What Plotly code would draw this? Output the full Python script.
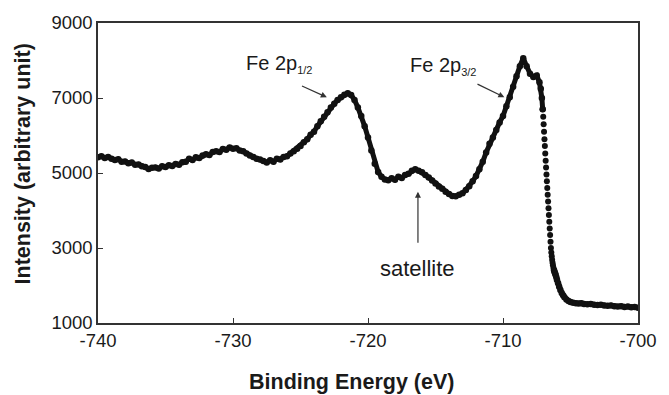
import plotly.graph_objects as go

# Binding energy (eV) and intensity (arbitrary unit)
energy = [
    -740.00, -739.75, -739.50, -739.25, -739.00, -738.75, -738.50, -738.25, -738.00, -737.75,
    -737.50, -737.25, -737.00, -736.75, -736.50, -736.25, -736.00, -735.75, -735.50, -735.25,
    -735.00, -734.75, -734.50, -734.25, -734.00, -733.75, -733.50, -733.25, -733.00, -732.75,
    -732.50, -732.25, -732.00, -731.75, -731.50, -731.25, -731.00, -730.75, -730.50, -730.25,
    -730.00, -729.75, -729.50, -729.25, -729.00, -728.75, -728.50, -728.25, -728.00, -727.75,
    -727.50, -727.25, -727.00, -726.75, -726.50, -726.25, -726.00, -725.75, -725.50, -725.25,
    -725.00, -724.75, -724.50, -724.25, -724.00, -723.75, -723.50, -723.25, -723.00, -722.75,
    -722.50, -722.25, -722.00, -721.75, -721.50, -721.25, -721.00, -720.75, -720.50, -720.25,
    -720.00, -719.75, -719.50, -719.25, -719.00, -718.75, -718.50, -718.25, -718.00, -717.75,
    -717.50, -717.25, -717.00, -716.75, -716.50, -716.25, -716.00, -715.75, -715.50, -715.25,
    -715.00, -714.75, -714.50, -714.25, -714.00, -713.75, -713.50, -713.25, -713.00, -712.75,
    -712.50, -712.25, -712.00, -711.75, -711.50, -711.25, -711.00, -710.75, -710.50, -710.25,
    -710.00, -709.75, -709.50, -709.25, -709.00, -708.75, -708.50, -708.25, -708.00, -707.75,
    -707.50, -707.30, -707.20, -707.12, -707.06, -707.02, -706.99, -706.96, -706.93, -706.90,
    -706.87, -706.84, -706.81, -706.78, -706.75, -706.72, -706.69, -706.66, -706.63, -706.60,
    -706.57, -706.54, -706.51, -706.48, -706.45, -706.42, -706.39, -706.36, -706.33, -706.30,
    -706.26, -706.22, -706.18, -706.14, -706.10, -706.05, -706.00, -705.92, -705.84, -705.75,
    -705.65, -705.55, -705.45, -705.30, -705.15, -705.00, -704.80, -704.60, -704.40, -704.20,
    -704.00, -703.75, -703.50, -703.25, -703.00, -702.75, -702.50, -702.25, -702.00, -701.75,
    -701.50, -701.25, -701.00, -700.75, -700.50, -700.25, -700.00,
]
intensity = [
    5420, 5450, 5400, 5430, 5380, 5350, 5370, 5300, 5310, 5260,
    5280, 5220, 5230, 5180, 5160, 5110, 5140, 5150, 5120, 5180,
    5160, 5210, 5190, 5240, 5220, 5290, 5300, 5380, 5350, 5420,
    5400, 5470, 5500, 5480, 5560, 5580, 5560, 5640, 5620, 5680,
    5650, 5660, 5600, 5580, 5520, 5470, 5430, 5380, 5360, 5320,
    5280, 5340, 5300, 5380, 5360, 5430, 5450, 5520, 5580, 5650,
    5720, 5820, 5900, 6020, 6100, 6250, 6380, 6500, 6620, 6750,
    6850, 6950, 7020, 7090, 7130, 7080, 6950, 6750, 6520, 6250,
    5950, 5600, 5250, 5030, 4900, 4830, 4810, 4860, 4820, 4900,
    4870, 4950, 4980, 5060, 5100, 5060, 5020, 4950, 4880, 4800,
    4720, 4640, 4580, 4500, 4440, 4390, 4380, 4420, 4460, 4550,
    4650, 4780, 4920, 5100, 5300, 5550, 5780, 5950, 6150, 6350,
    6520, 6780, 7020, 7300, 7580, 7850, 8060, 7850, 7650, 7560,
    7600, 7420, 7250, 7000, 6700, 6500, 6300, 6100, 5900, 5720,
    5520, 5330, 5150, 4960, 4780, 4600, 4420, 4240, 4060, 3880,
    3700, 3520, 3350, 3170, 3000, 2880, 2780, 2690, 2610, 2540,
    2470, 2410, 2360, 2320, 2280, 2220, 2150, 2060, 1970, 1880,
    1800, 1740, 1690, 1630, 1590, 1560, 1540, 1530, 1520, 1530,
    1510, 1500, 1510, 1490, 1480, 1490, 1470, 1460, 1470, 1450,
    1440, 1450, 1430, 1440, 1420, 1430, 1410,
]

x_ticks = [-740, -730, -720, -710, -700]
y_ticks = [1000, 3000, 5000, 7000, 9000]

FONT = "Liberation Sans, Arial, sans-serif"
AX = "#333333"
TXT = "#1a1a1a"

# the steep edge is drawn as separate dots only (no joining band)
i0 = energy.index(-707.06)
i1 = energy.index(-706.22)

fig = go.Figure()
band = dict(color="#111111", width=5)
dots = dict(size=6.5, color="#111111", line=dict(width=0))
fig.add_trace(go.Scatter(x=energy[:i0 + 1], y=intensity[:i0 + 1], mode="lines+markers",
                         line=band, marker=dots, showlegend=False))
fig.add_trace(go.Scatter(x=energy[i0:i1 + 1], y=intensity[i0:i1 + 1], mode="markers",
                         marker=dict(size=6, color="#111111", line=dict(width=0)),
                         showlegend=False))
fig.add_trace(go.Scatter(x=energy[i1:], y=intensity[i1:], mode="lines+markers",
                         line=band, marker=dots, showlegend=False))

axis_common = dict(
    showline=True, linecolor=AX, linewidth=1.5, mirror=True,
    ticks="inside", ticklen=5, tickcolor=AX, tickwidth=1.2,
    showgrid=False, zeroline=False,
    tickfont=dict(family=FONT, size=18.5, color=TXT),
)

fig.update_layout(
    width=669, height=395,
    margin=dict(l=98, r=24, t=19, b=72),
    paper_bgcolor="white", plot_bgcolor="white",
    xaxis=dict(range=[-740, -700], tickvals=x_ticks,
               ticktext=[str(v) for v in x_ticks], **axis_common),
    yaxis=dict(range=[1000, 9000], tickvals=y_ticks,
               ticktext=[str(v) for v in y_ticks], **axis_common),
)

# axis titles (placed where the reference has them; paper fractions of the plot area)
fig.add_annotation(x=0.470, y=-0.197, xref="paper", yref="paper", showarrow=False,
                   xanchor="center", yanchor="middle",
                   text="<b>Binding Energy (eV)</b>",
                   font=dict(family=FONT, size=21.5, color=TXT))
fig.add_annotation(x=-0.138, y=0.530, xref="paper", yref="paper", showarrow=False,
                   xanchor="center", yanchor="middle",
                   text="<b>Intensity (arbitrary unit)</b>", textangle=-90,
                   font=dict(family=FONT, size=21.5, color=TXT))

txt_font = dict(family=FONT, size=20, color=TXT)
fig.add_annotation(x=-729.15, y=7900, xref="x", yref="y", showarrow=False,
                   xanchor="left", yanchor="middle",
                   text="Fe 2p<sub><span style='font-size:11px'>1/2</span></sub>", font=txt_font)
fig.add_annotation(x=-717.05, y=7850, xref="x", yref="y", showarrow=False,
                   xanchor="left", yanchor="middle",
                   text="Fe 2p<sub><span style='font-size:11px'>3/2</span></sub>", font=txt_font)
fig.add_annotation(x=-716.35, y=2450, xref="x", yref="y", showarrow=False,
                   xanchor="center", yanchor="middle",
                   text="satellite", font=dict(family=FONT, size=22, color=TXT))

arrow_style = dict(showarrow=True, arrowhead=2, arrowsize=1, arrowwidth=1.2,
                   arrowcolor="#333333", text="", xref="x", yref="y",
                   axref="x", ayref="y")
fig.add_annotation(x=-723.05, y=7020, ax=-725.0, ay=7340, **arrow_style)
fig.add_annotation(x=-709.9, y=7020, ax=-712.0, ay=7390, **arrow_style)
fig.add_annotation(x=-716.3, y=4500, ax=-716.3, ay=3100, **arrow_style)

fig.write_html("out.html")
